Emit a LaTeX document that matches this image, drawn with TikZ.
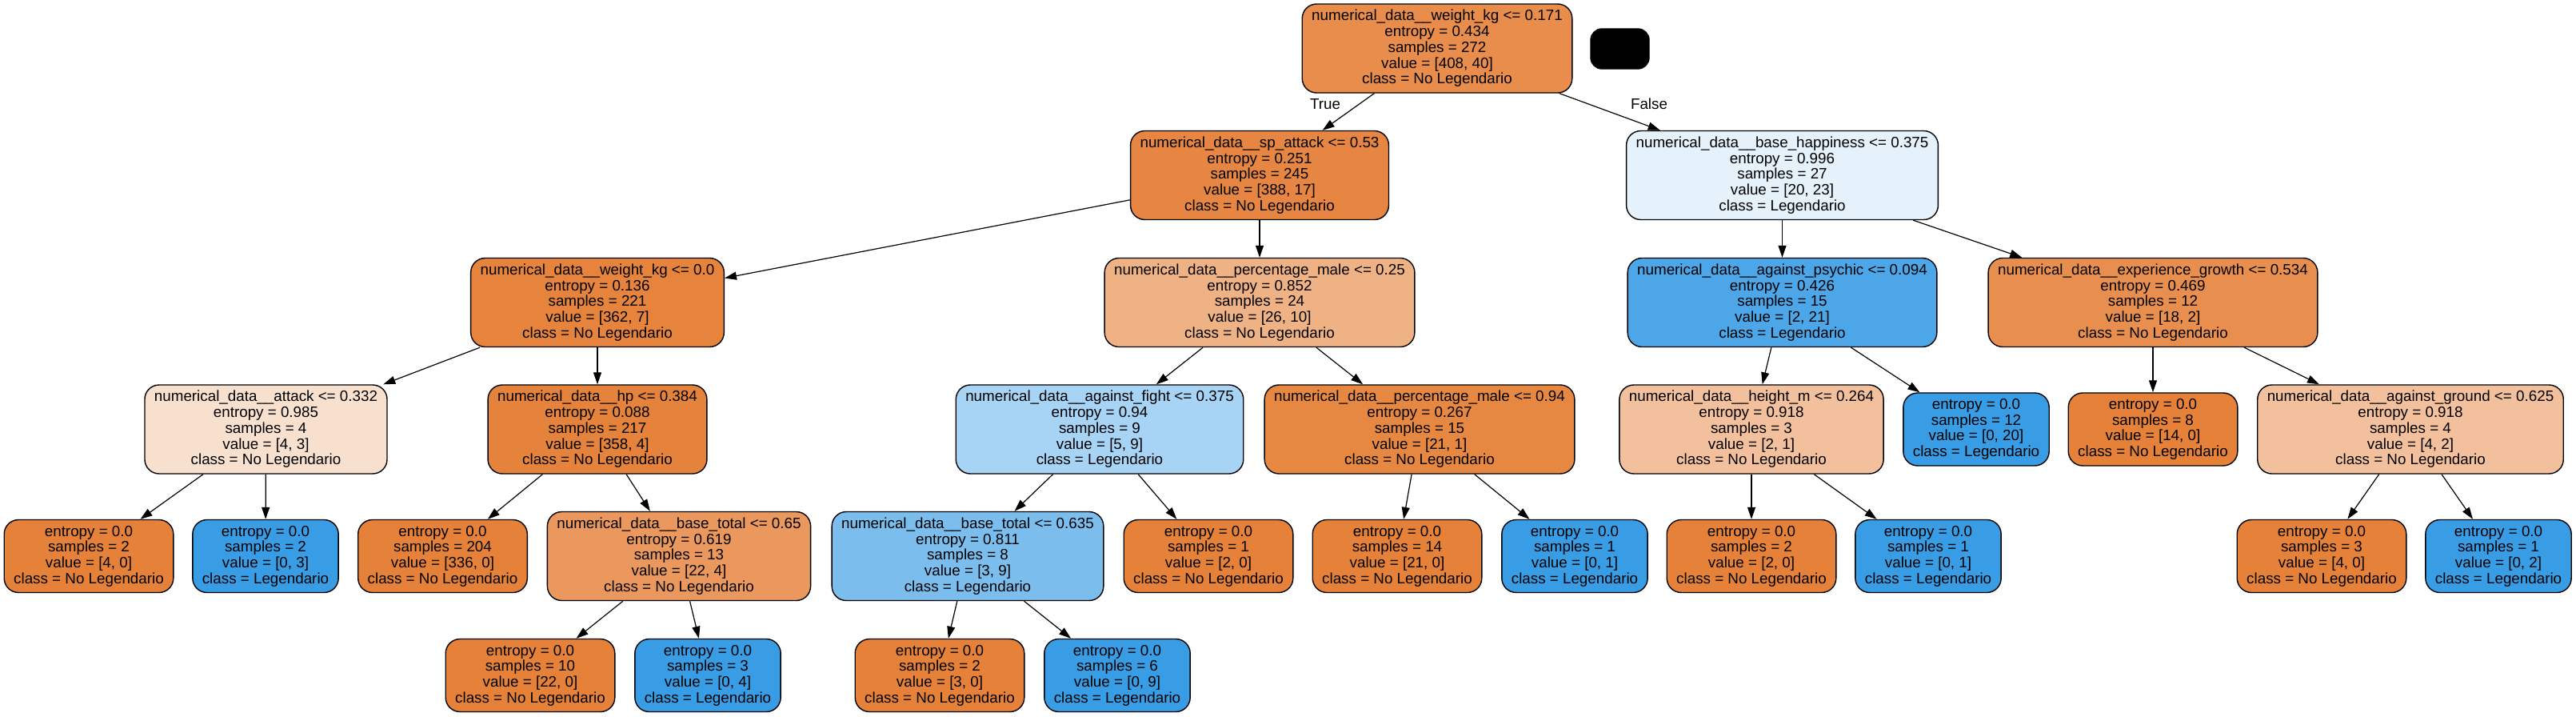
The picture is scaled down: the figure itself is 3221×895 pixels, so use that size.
\documentclass[tikz,border=0pt]{standalone}
\usepackage{fontspec}
\setmainfont{Liberation Sans}
\usetikzlibrary{arrows.meta}
\definecolor{pureno}{RGB}{229,129,57}
\definecolor{purelg}{RGB}{57,157,229}
\definecolor{cRoot}{RGB}{232,141,76}
\definecolor{cSpAttack}{RGB}{230,134,66}
\definecolor{cHappy}{RGB}{229,242,252}
\definecolor{cWeightZero}{RGB}{230,131,61}
\definecolor{cMaleA}{RGB}{239,178,133}
\definecolor{cPsychic}{RGB}{76,166,231}
\definecolor{cGrowth}{RGB}{232,143,79}
\definecolor{cAttack}{RGB}{248,224,206}
\definecolor{cHp}{RGB}{229,130,59}
\definecolor{cFight}{RGB}{167,211,244}
\definecolor{cMaleB}{RGB}{230,135,66}
\definecolor{cThird}{RGB}{242,192,156}
\definecolor{cTotalA}{RGB}{234,152,93}
\definecolor{cTotalB}{RGB}{123,190,238}
\begin{document}
\begin{tikzpicture}[x=1pt,y=-1pt,
  font=\fontsize{18.8}{19.7}\selectfont,
  >={Triangle[length=15pt,width=10pt]},
  decision/.style={draw, line width=1.4pt, rounded corners=18pt, align=center,
    inner xsep=12pt, inner ysep=2pt, minimum height=111pt},
  leafnode/.style={decision, minimum height=91pt},
  branch/.style={->, line width=1.2pt}]
  \def\yroot{60.5}
  \def\yone{219}
  \def\ytwo{378}
  \def\ythree{536.5}
  \def\yfour{695}
  \def\yfive{844}
  \useasboundingbox (0,0) rectangle (3221,895);

  \node [decision, fill=cRoot] (root) at (1797,\yroot) {numerical\_data\_\_weight\_kg <= 0.171\\entropy = 0.434\\samples = 272\\value = [408, 40]\\class = No Legendario};
  \node [draw, fill=black, line width=1.4pt, rounded corners=14pt, minimum width=73pt, minimum height=50pt, inner sep=0pt] (legend) at (2025.5,61) {};
  \node (truelbl) at (1657,130) {True};
  \node (falselbl) at (2062,130) {False};

  \node [decision, fill=cSpAttack] (spattack) at (1575,\yone) {numerical\_data\_\_sp\_attack <= 0.53\\entropy = 0.251\\samples = 245\\value = [388, 17]\\class = No Legendario};
  \node [decision, fill=cHappy] (happy) at (2228.5,\yone) {numerical\_data\_\_base\_happiness <= 0.375\\entropy = 0.996\\samples = 27\\value = [20, 23]\\class = Legendario};

  \node [decision, fill=cWeightZero] (weightzero) at (747,\ytwo) {numerical\_data\_\_weight\_kg <= 0.0\\entropy = 0.136\\samples = 221\\value = [362, 7]\\class = No Legendario};
  \node [decision, fill=cMaleA] (maleA) at (1575,\ytwo) {numerical\_data\_\_percentage\_male <= 0.25\\entropy = 0.852\\samples = 24\\value = [26, 10]\\class = No Legendario};
  \node [decision, fill=cPsychic] (psychic) at (2228.5,\ytwo) {numerical\_data\_\_against\_psychic <= 0.094\\entropy = 0.426\\samples = 15\\value = [2, 21]\\class = Legendario};
  \node [decision, fill=cGrowth] (growth) at (2692,\ytwo) {numerical\_data\_\_experience\_growth <= 0.534\\entropy = 0.469\\samples = 12\\value = [18, 2]\\class = No Legendario};

  \node [decision, fill=cAttack] (attack) at (332.5,\ythree) {numerical\_data\_\_attack <= 0.332\\entropy = 0.985\\samples = 4\\value = [4, 3]\\class = No Legendario};
  \node [decision, fill=cHp] (hp) at (747,\ythree) {numerical\_data\_\_hp <= 0.384\\entropy = 0.088\\samples = 217\\value = [358, 4]\\class = No Legendario};
  \node [decision, fill=cFight] (fight) at (1375,\ythree) {numerical\_data\_\_against\_fight <= 0.375\\entropy = 0.94\\samples = 9\\value = [5, 9]\\class = Legendario};
  \node [decision, fill=cMaleB] (maleB) at (1775,\ythree) {numerical\_data\_\_percentage\_male <= 0.94\\entropy = 0.267\\samples = 15\\value = [21, 1]\\class = No Legendario};
  \node [decision, fill=cThird] (height) at (2190,\ythree) {numerical\_data\_\_height\_m <= 0.264\\entropy = 0.918\\samples = 3\\value = [2, 1]\\class = No Legendario};
  \node [leafnode, fill=purelg] (leafk) at (2471,\ythree) {entropy = 0.0\\samples = 12\\value = [0, 20]\\class = Legendario};
  \node [leafnode, fill=pureno] (leafl) at (2692,\ythree) {entropy = 0.0\\samples = 8\\value = [14, 0]\\class = No Legendario};
  \node [decision, fill=cThird] (ground) at (3014,\ythree) {numerical\_data\_\_against\_ground <= 0.625\\entropy = 0.918\\samples = 4\\value = [4, 2]\\class = No Legendario};

  \node [leafnode, fill=pureno] (leafa) at (111,\yfour) {entropy = 0.0\\samples = 2\\value = [4, 0]\\class = No Legendario};
  \node [leafnode, fill=purelg] (leafb) at (332,\yfour) {entropy = 0.0\\samples = 2\\value = [0, 3]\\class = Legendario};
  \node [leafnode, fill=pureno] (leafc) at (553.5,\yfour) {entropy = 0.0\\samples = 204\\value = [336, 0]\\class = No Legendario};
  \node [decision, fill=cTotalA] (totalA) at (849,\yfour) {numerical\_data\_\_base\_total <= 0.65\\entropy = 0.619\\samples = 13\\value = [22, 4]\\class = No Legendario};
  \node [decision, fill=cTotalB] (totalB) at (1210,\yfour) {numerical\_data\_\_base\_total <= 0.635\\entropy = 0.811\\samples = 8\\value = [3, 9]\\class = Legendario};
  \node [leafnode, fill=pureno] (leafd) at (1511,\yfour) {entropy = 0.0\\samples = 1\\value = [2, 0]\\class = No Legendario};
  \node [leafnode, fill=pureno] (leafe) at (1747,\yfour) {entropy = 0.0\\samples = 14\\value = [21, 0]\\class = No Legendario};
  \node [leafnode, fill=purelg] (leaff) at (1969,\yfour) {entropy = 0.0\\samples = 1\\value = [0, 1]\\class = Legendario};
  \node [leafnode, fill=pureno] (leafg) at (2190,\yfour) {entropy = 0.0\\samples = 2\\value = [2, 0]\\class = No Legendario};
  \node [leafnode, fill=purelg] (leafh) at (2411,\yfour) {entropy = 0.0\\samples = 1\\value = [0, 1]\\class = Legendario};
  \node [leafnode, fill=pureno] (leafi) at (2903,\yfour) {entropy = 0.0\\samples = 3\\value = [4, 0]\\class = No Legendario};
  \node [leafnode, fill=purelg] (leafj) at (3124,\yfour) {entropy = 0.0\\samples = 1\\value = [0, 2]\\class = Legendario};

  \node [leafnode, fill=pureno] (leafm) at (663,\yfive) {entropy = 0.0\\samples = 10\\value = [22, 0]\\class = No Legendario};
  \node [leafnode, fill=purelg] (leafn) at (885,\yfive) {entropy = 0.0\\samples = 3\\value = [0, 4]\\class = Legendario};
  \node [leafnode, fill=pureno] (leafo) at (1175,\yfive) {entropy = 0.0\\samples = 2\\value = [3, 0]\\class = No Legendario};
  \node [leafnode, fill=purelg] (leafp) at (1397,\yfive) {entropy = 0.0\\samples = 6\\value = [0, 9]\\class = Legendario};

  \foreach \a/\b in {root/spattack, root/happy, spattack/weightzero, spattack/maleA,
    happy/psychic, happy/growth, weightzero/attack, weightzero/hp, maleA/fight, maleA/maleB,
    psychic/height, psychic/leafk, growth/leafl, growth/ground, attack/leafa, attack/leafb,
    hp/leafc, hp/totalA, fight/totalB, fight/leafd, maleB/leafe, maleB/leaff,
    height/leafg, height/leafh, ground/leafi, ground/leafj, totalA/leafm, totalA/leafn,
    totalB/leafo, totalB/leafp}
  \draw [branch] (\a) -- (\b);
\end{tikzpicture}
\end{document}
